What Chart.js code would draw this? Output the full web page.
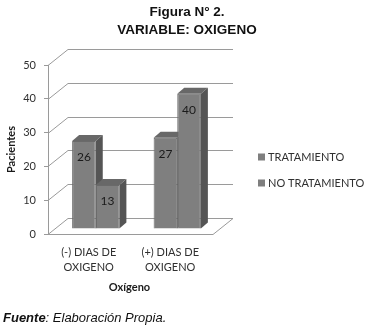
<!DOCTYPE html>
<html>
<head>
<meta charset="utf-8">
<script src="https://cdn.jsdelivr.net/npm/chart.js@4"></script>
<style>
  html, body { margin: 0; padding: 0; background: #ffffff; }
  #wrap { width: 367px; height: 327px; position: relative; }
</style>
</head>
<body>
<div id="wrap"><canvas id="c" width="367" height="327"></canvas></div>
<script>
const categories = [['(-) DIAS DE', 'OXIGENO'], ['(+) DIAS DE', 'OXIGENO']];
const seriesNames = ['TRATAMIENTO', 'NO TRATAMIENTO'];
const tratamiento = [26, 27];
const noTratamiento = [13, 40];
const yTicks = [0, 10, 20, 30, 40, 50];
const titleLines = ['Figura N\u00b0 2.', 'VARIABLE: OXIGENO'];
const yTitle = 'Pacientes';
const xTitle = 'Ox\u00edgeno';
const footerBold = 'Fuente';
const footerRest = ': Elaboraci\u00f3n Propia.';

const BACK_DX = 20, BACK_DY = -16;   // back wall offset
const BAR_DX = 7, BAR_DY = -5;       // bar placement depth
const DEP_DX = 7, DEP_DY = -6;       // bar thickness depth
const barFront = '#7f7f7f';
const barSide = '#555555';
const barTop = '#686868';
const gridColor = '#9a9a9a';

const threeD = {
  id: 'threeD',
  beforeDatasetsDraw(chart) {
    const ctx = chart.ctx;
    const ca = chart.chartArea;
    const y = chart.scales.y;
    ctx.save();
    ctx.strokeStyle = gridColor;
    ctx.lineWidth = 1;
    // floor
    const y0 = Math.round(y.getPixelForValue(0)) + 0.5;
    ctx.beginPath();
    ctx.moveTo(ca.left, y0);
    ctx.lineTo(ca.right + 2, y0);
    ctx.lineTo(ca.right + 2 + BACK_DX, y0 + BACK_DY);
    ctx.stroke();
    // back gridlines + diagonals
    yTicks.forEach(v => {
      const py = Math.round(y.getPixelForValue(v)) + 0.5;
      ctx.beginPath();
      ctx.moveTo(ca.left, py);
      ctx.lineTo(ca.left + BACK_DX, py + BACK_DY);
      ctx.lineTo(ca.right + 2 + BACK_DX, py + BACK_DY);
      ctx.stroke();
    });
    // side & top faces of bars
    chart.data.datasets.forEach((ds, di) => {
      const meta = chart.getDatasetMeta(di);
      meta.data.forEach(bar => {
        const l = bar.x - bar.width / 2 + BAR_DX;
        const r = bar.x + bar.width / 2 + BAR_DX;
        const t = bar.y + BAR_DY;
        const b = bar.base + BAR_DY;
        ctx.fillStyle = barSide;
        ctx.beginPath();
        ctx.moveTo(r, t);
        ctx.lineTo(r + DEP_DX, t + DEP_DY);
        ctx.lineTo(r + DEP_DX, b + DEP_DY);
        ctx.lineTo(r, b);
        ctx.closePath();
        ctx.fill();
        ctx.fillStyle = barTop;
        ctx.beginPath();
        ctx.moveTo(l, t);
        ctx.lineTo(l + DEP_DX, t + DEP_DY);
        ctx.lineTo(r + DEP_DX, t + DEP_DY);
        ctx.lineTo(r, t);
        ctx.closePath();
        ctx.fill();
      });
    });
    ctx.restore();
    ctx.save();
    ctx.translate(BAR_DX, BAR_DY);
  },
  afterDatasetsDraw(chart) {
    const ctx = chart.ctx;
    ctx.restore();
    ctx.save();
    ctx.fillStyle = '#1a1a1a';
    ctx.font = '12px Lato';
    ctx.textAlign = 'center';
    ctx.textBaseline = 'middle';
    chart.data.datasets.forEach((ds, di) => {
      const meta = chart.getDatasetMeta(di);
      meta.data.forEach((bar, i) => {
        ctx.fillText(String(ds.data[i]), bar.x + BAR_DX, bar.y + BAR_DY + 16);
      });
    });
    ctx.restore();
  },
  afterDraw(chart) {
    const ctx = chart.ctx;
    ctx.save();
    // titles
    ctx.fillStyle = '#111111';
    ctx.textAlign = 'center';
    ctx.textBaseline = 'middle';
    ctx.font = 'bold 13.5px "Liberation Sans", Arial';
    titleLines.forEach((t, i) => ctx.fillText(t, 187, 12 + i * 18));
    // legend
    ctx.font = '11px Lato';
    ctx.textAlign = 'left';
    chart.data.datasets.forEach((ds, di) => {
      const ly = 157 + di * 26;
      ctx.fillStyle = ds.backgroundColor;
      ctx.fillRect(258, ly - 3.5, 7, 7);
      ctx.fillStyle = '#303030';
      ctx.fillText(ds.label, 268, ly);
    });
    // footer
    ctx.fillStyle = '#111111';
    ctx.font = 'italic bold 13px "Liberation Sans", Arial';
    ctx.fillText(footerBold, 3, 318);
    const w = ctx.measureText(footerBold).width;
    ctx.font = 'italic 13px "Liberation Sans", Arial';
    ctx.fillText(footerRest, 3 + w, 318);
    ctx.restore();
  }
};

new Chart(document.getElementById('c'), {
  type: 'bar',
  data: {
    labels: categories,
    datasets: [
      { label: seriesNames[0], data: tratamiento, backgroundColor: barFront, borderColor: '#6a6a6a', borderWidth: 1 },
      { label: seriesNames[1], data: noTratamiento, backgroundColor: barFront, borderColor: '#6a6a6a', borderWidth: 1 }
    ]
  },
  options: {
    responsive: false,
    animation: false,
    devicePixelRatio: 1,
    layout: { padding: { left: 0, right: 156, top: 65, bottom: 33 } },
    datasets: { bar: { categoryPercentage: 0.58, barPercentage: 1 } },
    plugins: {
      legend: { display: false },
      tooltip: { enabled: false },
      title: { display: false }
    },
    scales: {
      x: {
        grid: { display: false, drawTicks: false },
        border: { display: false },
        ticks: { color: '#303030', font: { family: 'Lato', size: 11, lineHeight: 1.36 }, padding: 11, maxRotation: 0 },
        title: { display: true, text: xTitle, color: '#1a1a1a', font: { family: 'Lato', size: 11, weight: 'bold' }, padding: { top: 0, bottom: 0 } },
        afterFit(s) { s.height = 60; }
      },
      y: {
        min: 0, max: 50,
        afterBuildTicks(s) { s.ticks = yTicks.map(v => ({ value: v })); },
        grid: { display: true, drawOnChartArea: false, drawTicks: true, tickLength: 4, color: gridColor },
        border: { display: true, color: gridColor },
        ticks: { color: '#303030', font: { family: 'Lato', size: 11 }, padding: 8 },
        title: { display: true, text: yTitle, color: '#1a1a1a', font: { family: 'Lato', size: 11, weight: 'bold' }, padding: { top: 5, bottom: 0 } },
        afterFit(s) { s.width = 48; }
      }
    }
  },
  plugins: [threeD]
});
</script>
</body>
</html>
